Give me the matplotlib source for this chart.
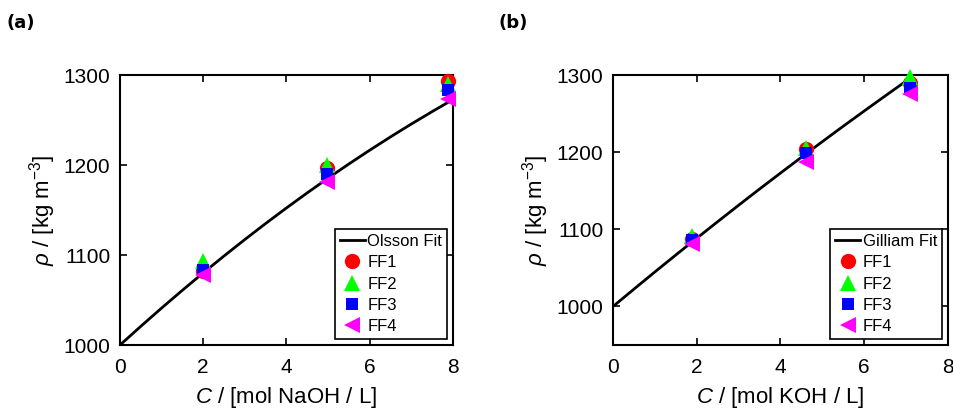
import numpy as np
import matplotlib
matplotlib.use('Agg')
import matplotlib.pyplot as plt

plt.rcParams['font.family'] = ['Liberation Sans', 'DejaVu Sans']
plt.rcParams['mathtext.fontset'] = 'custom'
plt.rcParams['mathtext.it'] = 'Liberation Sans:italic'
plt.rcParams['mathtext.rm'] = 'Liberation Sans'

# (a) NaOH
naoh_conc = [2.0, 4.97, 7.88]
naoh_ff1 = [1082, 1197, 1294]
naoh_ff2 = [1093, 1200, 1290]
naoh_ff3 = [1083, 1190, 1284]
naoh_ff4 = [1078, 1181, 1274]
olsson_c = [0, 0.5, 1, 1.5, 2, 2.5, 3, 3.5, 4, 4.5, 5, 5.5, 6, 6.5, 7, 7.5, 7.88]
olsson_rho = [1000, 1020.8, 1041.1, 1060.9, 1080.2, 1099.0, 1117.3, 1135.1,
              1152.4, 1169.2, 1185.5, 1201.3, 1216.6, 1231.4, 1245.7, 1259.5,
              1269.7]

# (b) KOH
koh_conc = [1.89, 4.62, 7.09]
koh_ff1 = [1088, 1204, 1290]
koh_ff2 = [1091, 1205, 1297]
koh_ff3 = [1086, 1199, 1284]
koh_ff4 = [1081, 1188, 1275]
gilliam_c = [0, 0.5, 1, 1.5, 2, 2.5, 3, 3.5, 4, 4.5, 5, 5.5, 6, 6.5, 7, 7.1]
gilliam_rho = [1000, 1022.5, 1044.8, 1066.8, 1088.5, 1110.0, 1131.3, 1152.3,
               1173.0, 1193.5, 1213.8, 1233.8, 1253.5, 1273.0, 1292.3, 1296.1]

markers = [('FF1', 'o', (1, 0, 0), 11),
           ('FF2', '^', (0, 1, 0), 11),
           ('FF3', 's', (0, 0, 1), 8.5),
           ('FF4', '<', (1, 0, 1), 12)]


def draw_panel(ax, fit_c, fit_rho, fit_name, conc, series, ylim, xlabel):
    ax.plot(fit_c, fit_rho, 'k-', lw=2, label=fit_name, zorder=2)
    for (name, m, col, ms), vals in zip(markers, series):
        ax.plot(conc, vals, linestyle='none', marker=m, color=col,
                markersize=ms, markeredgewidth=0, label=name, zorder=3,
                clip_on=False)
    ax.set_xlim(0, 8)
    ax.set_ylim(*ylim)
    ax.set_xticks([0, 2, 4, 6, 8])
    ax.set_yticks([1000, 1100, 1200, 1300])
    ax.tick_params(direction='in', top=True, right=True, length=5,
                   width=1.2, labelsize=15)
    ax.tick_params(axis='x', pad=9)
    ax.tick_params(axis='y', pad=7)
    for sp in ax.spines.values():
        sp.set_linewidth(1.5)
    ax.set_xlabel(xlabel, fontsize=16, labelpad=6)
    ax.set_ylabel(r'$\rho$ / [kg m$^{-3}$]', fontsize=16, labelpad=4)
    leg = ax.legend(loc='lower right', fontsize=12, frameon=True,
                    fancybox=False, edgecolor='black', framealpha=1,
                    handlelength=1.5, handletextpad=0.15,
                    borderpad=0.3, labelspacing=0.38, borderaxespad=0.35)
    leg.get_frame().set_linewidth(1.2)


fig = plt.figure(figsize=(9.54, 4.19), dpi=100)
ax1 = fig.add_axes([0.1258, 0.1766, 0.349, 0.644])
ax2 = fig.add_axes([0.6426, 0.1766, 0.351, 0.644])

draw_panel(ax1, olsson_c, olsson_rho, 'Olsson Fit', naoh_conc,
           [naoh_ff1, naoh_ff2, naoh_ff3, naoh_ff4], (1000, 1300),
           r'$C$ / [mol NaOH / L]')
draw_panel(ax2, gilliam_c, gilliam_rho, 'Gilliam Fit', koh_conc,
           [koh_ff1, koh_ff2, koh_ff3, koh_ff4], (950, 1300),
           r'$C$ / [mol KOH / L]')

fig.text(0.007, 0.945, '(a)', fontsize=13, fontweight='bold',
         family='DejaVu Sans', va='center')
fig.text(0.523, 0.945, '(b)', fontsize=13, fontweight='bold',
         family='DejaVu Sans', va='center')

fig.savefig('out.png', dpi=100, facecolor='white')
